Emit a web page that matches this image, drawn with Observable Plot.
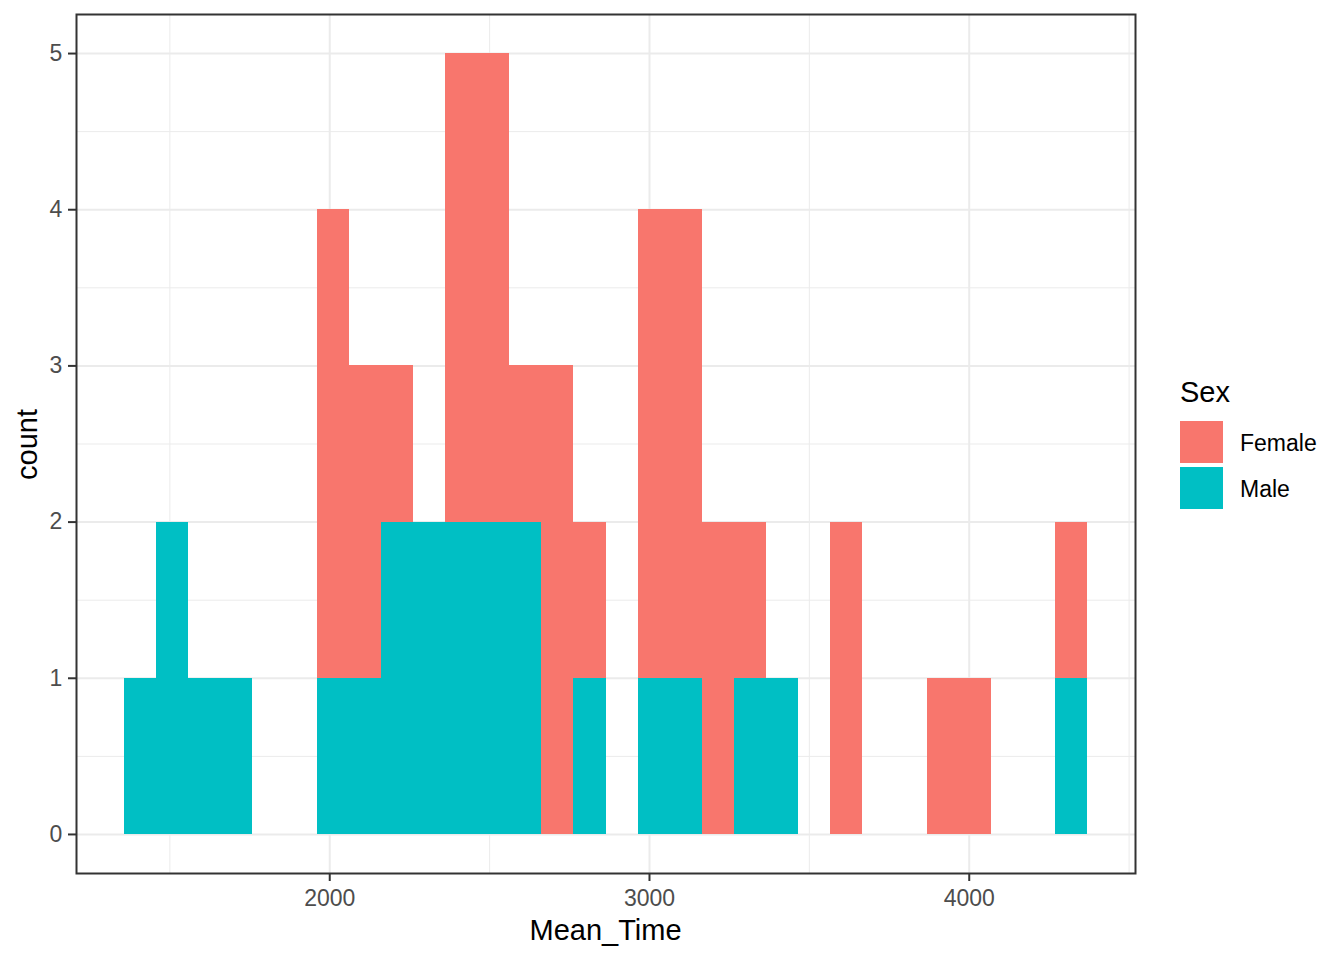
<!DOCTYPE html>
<html>
<head>
<meta charset="utf-8">
<script src="https://cdn.jsdelivr.net/npm/d3@7"></script>
<script src="https://cdn.jsdelivr.net/npm/@observablehq/plot@0.6"></script>
<style>
  html, body { margin: 0; padding: 0; background: #fff; }
  #wrap { position: relative; width: 1344px; height: 960px; font-family: "Liberation Sans", Arial, sans-serif; }
  #wrap svg { position: absolute; left: 0; top: 0; }
  .lbl { position: absolute; white-space: nowrap; color: #000; }
</style>
</head>
<body>
<div id="wrap"></div>
<script>
// ---- data ----
const binStart = 1358;      // left edge of first bin (Mean_Time)
const binWidth = 100.4;     // histogram bin width
const femaleCounts = [0,0,0,0,0,0,3,2,1,0,3,3,1,3,1,0,3,3,2,1,0,0,2,0,0,1,1,0,0,1];
const maleCounts   = [1,2,1,1,0,0,1,1,2,2,2,2,2,0,1,0,1,1,0,1,1,0,0,0,0,0,0,0,0,1];
const sexes = ["Female", "Male"];
const sexColors = ["#F8766D", "#00BFC4"];
const xTicks = [2000, 3000, 4000];
const xMinor = [1500, 2500, 3500, 4500];
const yTicks = [0, 1, 2, 3, 4, 5];
const yMinor = [0.5, 1.5, 2.5, 3.5, 4.5];
const xDomain = [1208, 4520];
const yDomain = [-0.25, 5.25];

// build table: Male rows first so Male stacks at the bottom
const rows = [];
maleCounts.forEach((c, i) => { if (c > 0) rows.push({bin: i, x1: binStart + i * binWidth, x2: binStart + (i + 1) * binWidth, sex: "Male", count: c}); });
femaleCounts.forEach((c, i) => { if (c > 0) rows.push({bin: i, x1: binStart + i * binWidth, x2: binStart + (i + 1) * binWidth, sex: "Female", count: c}); });

const grid = "#EBEBEB";
const chart = Plot.plot({
  width: 1344,
  height: 960,
  marginLeft: 76,
  marginRight: 209,
  marginTop: 14,
  marginBottom: 87,
  style: {fontFamily: '"Liberation Sans", Arial, sans-serif', background: "#fff"},
  x: {domain: xDomain, axis: null},
  y: {domain: yDomain, axis: null},
  color: {domain: sexes, range: sexColors},
  marks: [
    Plot.ruleY(yMinor, {stroke: grid, strokeWidth: 1}),
    Plot.ruleX(xMinor, {stroke: grid, strokeWidth: 1}),
    Plot.ruleY(yTicks, {stroke: grid, strokeWidth: 2}),
    Plot.ruleX(xTicks, {stroke: grid, strokeWidth: 2}),
    Plot.rect(rows, Plot.stackY({x: "bin", x1: "x1", x2: "x2", y: "count", fill: "sex", shapeRendering: "crispEdges"})),
    Plot.frame({stroke: "#333333", strokeWidth: 2}),
    Plot.axisX({ticks: xTicks, tickFormat: d => String(d), tickSize: 8, tickPadding: 8.4, fontSize: 23, stroke: "#333333", strokeWidth: 2, fill: "#4D4D4D", label: null}),
    Plot.axisY({ticks: yTicks, tickFormat: d => String(d), tickSize: 8, tickPadding: 6.3, fontSize: 23, stroke: "#333333", strokeWidth: 2, fill: "#4D4D4D", label: null})
  ]
});
const wrap = document.getElementById("wrap");
wrap.appendChild(chart);

function addLabel(text, css) {
  const d = document.createElement("div");
  d.className = "lbl";
  d.textContent = text;
  Object.assign(d.style, css);
  wrap.appendChild(d);
  return d;
}
// axis titles
addLabel("Mean_Time", {left: "405.5px", top: "915.5px", width: "400px", textAlign: "center", fontSize: "29px", lineHeight: "29px"});
addLabel("count", {left: "-73px", top: "429.5px", width: "200px", height: "29px", textAlign: "center", fontSize: "29px", lineHeight: "29px", transform: "rotate(-90deg)"});
// legend
addLabel("Sex", {left: "1180px", top: "377.5px", fontSize: "29px", lineHeight: "29px"});
const keyTops = [421, 467];
const labelTops = [432.2, 478.2];
sexes.forEach((s, i) => {
  const k = document.createElement("div");
  Object.assign(k.style, {position: "absolute", left: "1180px", top: keyTops[i] + "px", width: "43px", height: "42px", background: sexColors[i]});
  wrap.appendChild(k);
  addLabel(s, {left: "1240px", top: labelTops[i] + "px", fontSize: "23px", lineHeight: "23px"});
});
</script>
</body>
</html>
